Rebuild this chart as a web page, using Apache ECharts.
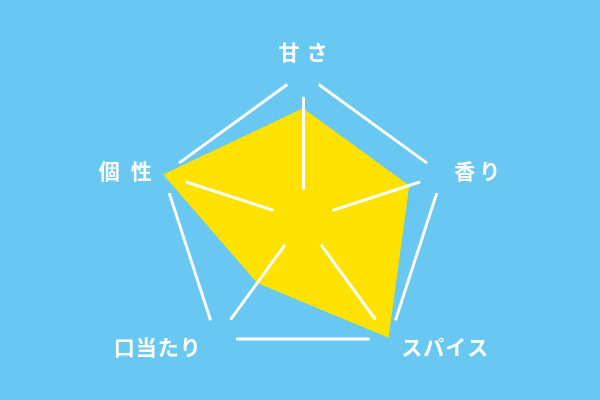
<!DOCTYPE html>
<html>
<head>
<meta charset="utf-8">
<script src="https://cdn.jsdelivr.net/npm/echarts@6/dist/echarts.min.js"></script>
<style>
html,body{margin:0;padding:0;background:#68c8f2;}
#chart{width:600px;height:400px;}
</style>
</head>
<body>
<div id="chart"></div>
<script>
// indicators in ECharts order (counter-clockwise from top)
const categories = ['甘さ', '個性', '口当たり', 'スパイス', '香り'];
const values = [76, 100, 53, 99, 76];
const maxValue = 100;

const R = 147;
const side = 2 * R * Math.sin(Math.PI / 5);
const edgeGap = 19.5;
const edgeDash = side - 2 * edgeGap;

// per-label spacing between characters and extra offset (px)
const letterGap = { '甘さ': 7, '個性': 11, '口当たり': 1, 'スパイス': 1, '香り': 4 };
const leadPad = { '甘さ': 0, '個性': 0, '口当たり': 0, 'スパイス': 6, '香り': 2 };
const tailPad = { '甘さ': 0, '個性': 2, '口当たり': 10, 'スパイス': 0, '香り': 0 };

const txt = { color: '#ffffff', fontSize: 21, fontWeight: 'bold', fontFamily: '"Noto Sans CJK JP", sans-serif' };
const rich = { c: txt };
[0,1,2,3,4,5,6,7,8,9,10,11,12].forEach(w => { rich['w' + w] = Object.assign({}, txt, { width: w }); });

function fmt(name) {
  const chars = name.split('');
  let s = leadPad[name] ? `{w${leadPad[name]}| }` : '';
  s += chars.map(ch => `{c|${ch}}`).join(letterGap[name] ? `{w${letterGap[name]}| }` : '');
  if (tailPad[name]) s += `{w${tailPad[name]}| }`;
  return s;
}

const chart = echarts.init(document.getElementById('chart'));
chart.setOption({
  backgroundColor: '#68c8f2',
  animation: false,
  radar: {
    z: 3,
    center: [303, 220],
    radius: R,
    startAngle: 90,
    splitNumber: 1,
    shape: 'polygon',
    indicator: categories.map(n => ({ name: n, max: maxValue, min: 0 })),
    axisName: Object.assign({}, txt, { formatter: fmt, rich: rich }),
    nameGap: 10,
    axisLine: {
      show: true,
      lineStyle: { color: '#ffffff', width: 3, type: [90, R - 90], dashOffset: (R - 32) }
    },
    axisTick: { show: false },
    axisLabel: { show: false },
    splitArea: { show: false },
    splitLine: {
      show: true,
      lineStyle: { color: '#ffffff', width: 3, type: [edgeDash, 2 * edgeGap], dashOffset: edgeDash + edgeGap }
    }
  },
  series: [{
    type: 'radar',
    z: 1,
    symbol: 'none',
    lineStyle: { width: 0 },
    areaStyle: { color: '#ffe200', opacity: 1 },
    data: [{ value: values, name: 'profile' }]
  }]
});
</script>
</body>
</html>
